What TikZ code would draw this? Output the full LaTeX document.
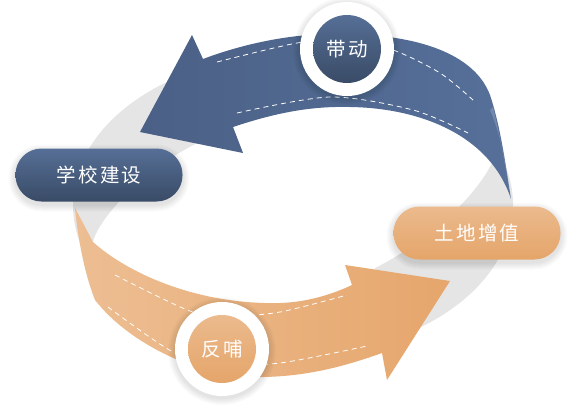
\documentclass[tikz,border=0pt]{standalone}
\usepackage{fontspec}
\usepackage{tikz}
\newfontfamily\cjkfont[LetterSpace=12]{Noto Sans CJK SC}
\definecolor{bandblue}{HTML}{56709A}
\definecolor{deepblue}{HTML}{4B6086}
\definecolor{boxbluetop}{HTML}{566F96}
\definecolor{boxbluebot}{HTML}{394B66}
\definecolor{bandorange}{HTML}{E6A66C}
\definecolor{paleorange}{HTML}{EDBE93}
\definecolor{boxorangetop}{HTML}{EBBA8D}
\definecolor{boxorangebot}{HTML}{E5A56A}
\definecolor{ringgray}{HTML}{E5E5E5}

\begin{document}
\begin{tikzpicture}[
        x=1pt,
        y=-1pt,
        pill/.style={rectangle, rounded corners=26pt, minimum width=167pt,
            minimum height=53pt, text=white,
            font=\cjkfont\fontsize{19.5}{22}\selectfont},
        ring/.style={circle, fill=white, minimum size=94pt, inner sep=0pt},
        badge/.style={circle, minimum size=68pt, inner sep=0pt, text=white,
            font=\cjkfont\fontsize{19.5}{22}\selectfont},
        halo/.style={black, opacity=0.016},
        stitch/.style={white, line width=0.8pt, dash pattern=on 5pt off 4pt}
    ]
        \fill[white] (0,0) rectangle (572,405);
        \useasboundingbox (0,0) rectangle (572,405);

        % twisted ring behind the two arrows
        \fill[ringgray] (293,205) ellipse [x radius=220, y radius=150];
        \fill[white]
            (93,242) .. controls (100,215) and (150,165) .. (200,142)
            -- (243,153) -- (233,127) -- (260,100) -- (350,95) -- (450,110)
            -- (497,150) .. controls (485,190) and (430,240) .. (375,268)
            -- (360,300) -- (280,318) -- (180,310) -- (93,250) -- cycle;

        % upper arrow
        \shade[left color=deepblue, right color=bandblue]
            (203,59) -- (192,35) -- (140,132) -- (243,153) -- (233,127)
            .. controls (275,113) and (310,106) .. (350,107)
            .. controls (420,108) and (490,135) .. (511,199)
            .. controls (505,160) and (500,125) .. (490,95)
            .. controls (475,55) and (420,34) .. (340,34)
            .. controls (290,33) and (240,45) .. (203,59) -- cycle;
        \fill[white, opacity=0.18]
            (493,107) .. controls (500,135) and (506,170) .. (511,199)
            .. controls (506,165) and (501,135) .. (490,110) -- cycle;
        \draw[stitch] plot[smooth] coordinates
            {(217,62) (297,43) (345,40) (393,50) (440,73) (473,100)};
        \draw[stitch] plot[smooth] coordinates
            {(237,113) (330,97) (413,110) (468,133)};

        % lower arrow
        \shade[left color=paleorange, right color=bandorange]
            (75,208) -- (93,242)
            .. controls (130,275) and (200,305) .. (280,303)
            .. controls (310,302) and (335,293) .. (352,285)
            -- (345,265) -- (450,281) -- (387,380) -- (382,353)
            .. controls (340,368) and (300,378) .. (250,377)
            .. controls (200,376) and (130,345) .. (95,300)
            .. controls (85,275) and (78,240) .. (75,208) -- cycle;
        \draw[stitch] plot[smooth] coordinates
            {(115,275) (190,311) (230,316) (280,312) (347,295)};
        \draw[stitch] plot[smooth] coordinates
            {(108,307) (173,352) (220,364) (280,363) (367,346)};

        % soft shadows under the labels
        \foreach \cx/\cy in {99/175, 477/233}
            \foreach \k in {1,...,7}
                \fill[halo, rounded corners={26pt+\k pt}]
                    (\cx-83.5-\k, \cy-26.5-\k+3) rectangle (\cx+83.5+\k, \cy+26.5+\k+3);
        \foreach \cx/\cy in {347/49, 222/349}
            \foreach \k in {1,...,7}
                \fill[halo] (\cx,\cy+2) circle [radius=47+\k];

        % labels
        \node[pill, top color=boxbluetop, bottom color=boxbluebot]
            (school) at (99,175) {学校建设};
        \node[pill, top color=boxorangetop, bottom color=boxorangebot]
            (land) at (477,233) {土地增值};

        \node[ring] (drivering) at (347,49) {};
        \node[badge, top color=boxbluetop, bottom color=boxbluebot]
            (drive) at (drivering) {带动};
        \node[ring] (feedring) at (222,349) {};
        \node[badge, top color=boxorangetop, bottom color=boxorangebot]
            (feed) at (feedring) {反哺};
    \end{tikzpicture}
\end{document}
